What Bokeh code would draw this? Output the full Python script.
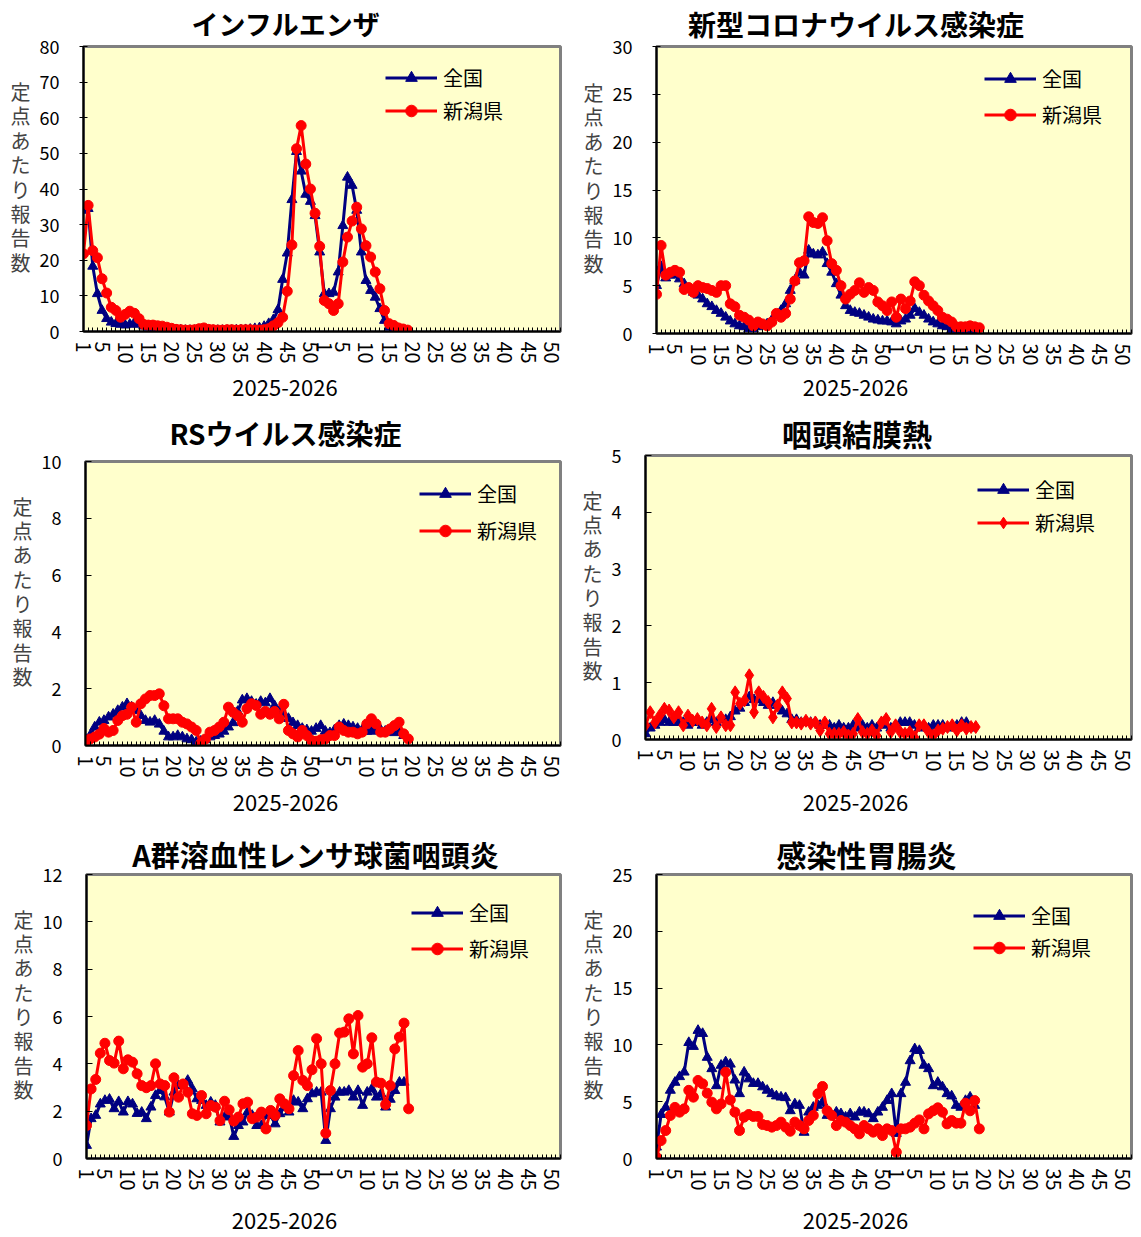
from bokeh.plotting import figure
from bokeh.models import Range1d, FixedTicker, Legend, LegendItem, Label
from bokeh.layouts import column, row
from bokeh.embed import file_html
from bokeh.resources import INLINE

FONT = "Noto Sans CJK JP"

# ---------------- data ----------------
weeks_2025 = list(range(1, 53))
weeks_2026 = list(range(1, 53))
labeled_weeks = [1, 5, 10, 15, 20, 25, 30, 35, 40, 45, 50]
x_title = "2025-2026"
y_title = "定点あたり報告数"
series_names = ["全国", "新潟県"]

titles = ["インフルエンザ", "新型コロナウイルス感染症", "RSウイルス感染症",
          "咽頭結膜熱", "A群溶血性レンサ球菌咽頭炎", "感染性胃腸炎"]
y_max = [80, 30, 10, 5, 12, 25]
y_step = [10, 5, 2, 1, 2, 5]

flu_national = [34.0, 34.5, 18.3, 10.6, 5.9, 3.6, 2.6, 2.2, 2.0, 1.8,
                2.0, 2.5, 2.0, 1.5, 1.2, 1.0, 0.9, 0.8, 0.6, 0.5,
                0.4, 0.4, 0.3, 0.3, 0.3, 0.3, 0.3, 0.3, 0.3, 0.3,
                0.3, 0.3, 0.3, 0.4, 0.4, 0.5, 0.6, 0.8, 1.0, 1.4,
                2.2, 3.3, 6.1, 14.6, 22.0, 37.0, 50.5, 45.0, 38.5, 36.5,
                32.5, 22.3,
                10.6, 10.6, 11.0, 16.7, 29.7, 43.3, 41.0, 34.0, 22.3, 14.3,
                11.5, 9.6, 6.4, 3.1, 1.2, 0.8, 0.5, 0.3]
flu_niigata = [21.8, 35.4, 22.7, 20.7, 14.8, 10.8, 6.8, 5.9, 4.0, 4.8,
               5.7, 5.1, 3.6, 2.0, 1.8, 1.8, 1.6, 1.5, 1.2, 0.9,
               0.6, 0.5, 0.4, 0.4, 0.5, 0.8, 1.0, 0.6, 0.5, 0.4,
               0.4, 0.5, 0.5, 0.4, 0.5, 0.5, 0.5, 0.4, 0.4, 0.5,
               0.8, 1.6, 2.5, 4.0, 11.3, 24.3, 51.3, 57.8, 47.0, 40.0,
               33.2, 23.9,
               8.7, 7.8, 5.9, 7.8, 19.5, 26.5, 31.0, 34.9, 28.8, 24.1,
               20.9, 16.7, 12.0, 5.9, 2.2, 1.7, 1.0, 0.7, 0.4]

covid_national = [5.0, 7.0, 5.8, 6.1, 6.1, 5.7, 5.2, 4.7, 4.3, 4.0,
                  3.6, 3.1, 2.8, 2.4, 2.1, 1.7, 1.3, 1.0, 0.8, 0.7,
                  0.5, 0.5, 0.7, 0.8, 1.0, 1.4, 1.9, 2.4, 3.1, 4.5,
                  5.5, 6.4, 6.1, 8.7, 8.3, 8.2, 8.5, 7.3, 6.4, 5.2,
                  4.0, 2.9, 2.4, 2.2, 2.1, 1.9, 1.7, 1.5, 1.4, 1.3,
                  1.3, 1.2,
                  1.0, 1.3, 1.5, 1.9, 2.6, 2.2, 1.9, 1.5, 1.2, 1.0,
                  0.8, 0.7, 0.4, 0.3, 0.3, 0.3, 0.25, 0.2]
covid_niigata = [4.1, 9.2, 6.1, 6.4, 6.6, 6.4, 4.6, 4.8, 4.3, 5.0,
                 4.8, 4.7, 4.5, 4.3, 5.0, 5.0, 3.1, 2.8, 1.9, 1.7,
                 1.4, 0.8, 1.2, 1.0, 0.8, 1.2, 2.1, 1.7, 2.1, 3.6,
                 5.5, 7.4, 7.6, 12.2, 11.6, 11.5, 12.1, 9.7, 7.3, 6.6,
                 5.0, 3.6, 4.1, 4.5, 5.3, 4.3, 4.8, 4.5, 3.3, 2.9,
                 2.4, 3.3,
                 1.7, 3.6, 2.6, 3.4, 5.4, 5.0, 4.0, 3.4, 2.9, 2.4,
                 1.7, 1.5, 1.2, 0.7, 0.7, 0.7, 0.8, 0.7, 0.6]

rsv_national = [0.23, 0.35, 0.65, 0.82, 0.88, 1.0, 1.1, 1.23, 1.35, 1.47,
                1.35, 1.23, 1.05, 0.88, 0.82, 0.88, 0.75, 0.5, 0.3, 0.3,
                0.35, 0.3, 0.23, 0.2, 0.12, 0.15, 0.2, 0.3, 0.35, 0.4,
                0.5, 0.65, 0.8, 1.2, 1.6, 1.65, 1.55, 1.45, 1.55, 1.5,
                1.65, 1.4, 1.2, 1.1, 0.95, 0.8, 0.7, 0.6, 0.55, 0.5,
                0.6, 0.7,
                0.5, 0.45, 0.55, 0.7, 0.75, 0.7, 0.65, 0.6, 0.55, 0.5,
                0.5, 0.55, 0.55, 0.5, 0.5, 0.45, 0.55, 0.35]
rsv_niigata = [0.15, 0.23, 0.3, 0.4, 0.6, 0.47, 0.53, 0.88, 1.05, 1.1,
               1.35, 0.82, 1.47, 1.64, 1.76, 1.76, 1.82, 1.4, 0.94, 0.94,
               0.94, 0.82, 0.76, 0.65, 0.53, 0.08, 0.23, 0.47, 0.53, 0.65,
               0.82, 1.35, 1.17, 1.05, 0.82, 1.3, 1.47, 1.41, 1.1, 1.2,
               1.1, 1.2, 0.94, 1.45, 0.53, 0.41, 0.3, 0.53, 0.35, 0.18,
               0.15, 0.2,
               0.23, 0.35, 0.35, 0.65, 0.53, 0.47, 0.47, 0.41, 0.47, 0.76,
               0.94, 0.76, 0.47, 0.47, 0.58, 0.7, 0.82, 0.41, 0.23]

pcf_national = [0.1, 0.2, 0.25, 0.3, 0.35, 0.3, 0.3, 0.3, 0.3, 0.25,
                0.3, 0.3, 0.25, 0.3, 0.35, 0.3, 0.35, 0.35, 0.4, 0.5,
                0.55, 0.65, 0.75, 0.7, 0.7, 0.65, 0.6, 0.65, 0.6, 0.5,
                0.45, 0.35, 0.35, 0.3, 0.3, 0.3, 0.3, 0.25, 0.25, 0.25,
                0.2, 0.25, 0.2, 0.2, 0.25, 0.2, 0.25, 0.2, 0.25, 0.2,
                0.3, 0.25,
                0.2, 0.25, 0.3, 0.3, 0.3, 0.25, 0.2, 0.25, 0.2, 0.25,
                0.25, 0.25, 0.2, 0.25, 0.25, 0.3, 0.3, 0.2]
pcf_niigata = [0.25, 0.48, 0.3, 0.42, 0.54, 0.51, 0.39, 0.48, 0.25, 0.42,
               0.33, 0.36, 0.3, 0.25, 0.54, 0.22, 0.39, 0.25, 0.25, 0.83,
               0.63, 0.69, 1.13, 0.48, 0.83, 0.75, 0.66, 0.39, 0.6, 0.83,
               0.72, 0.3, 0.3, 0.28, 0.33, 0.28, 0.3, 0.16, 0.3, 0.1,
               0.1, 0.1, 0.13, 0.07, 0.1, 0.36, 0.13, 0.1, 0.16, 0.07,
               0.3, 0.36,
               0.13, 0.25, 0.13, 0.1, 0.13, 0.04, 0.25, 0.25, 0.13, 0.07,
               0.16, 0.19, 0.22, 0.25, 0.16, 0.25, 0.19, 0.22, 0.22]

gas_national = [0.55, 1.68, 1.82, 2.3, 2.45, 2.5, 2.1, 2.4, 1.96, 2.4,
                2.3, 1.9, 1.95, 1.68, 2.17, 2.66, 2.87, 2.6, 1.96, 2.8,
                3.08, 3.08, 3.3, 2.94, 2.52, 2.45, 2.24, 2.38, 2.24, 1.54,
                1.75, 1.82, 0.93, 1.39, 1.54, 1.96, 1.82, 1.39, 1.39, 1.82,
                1.82, 1.46, 1.89, 2.17, 1.96, 2.45, 2.38, 2.1, 2.52, 2.73,
                2.8, 2.8,
                0.76, 2.1, 2.59, 2.8, 2.8, 2.87, 2.59, 2.87, 2.24, 2.8,
                2.94, 2.59, 2.73, 2.17, 2.5, 2.87, 3.22, 3.22]
gas_niigata = [1.39, 2.94, 3.34, 4.45, 4.87, 4.14, 4.03, 4.96, 3.79, 4.17,
               4.07, 3.58, 3.08, 2.99, 3.08, 4.0, 3.15, 3.08, 1.96, 3.41,
               2.59, 3.15, 2.8, 1.89, 1.82, 2.66, 1.89, 2.24, 2.17, 1.6,
               2.42, 2.06, 1.58, 1.75, 2.31, 2.38, 1.68, 1.75, 1.96, 1.25,
               2.03, 1.82, 2.52, 2.31, 2.1, 3.5, 4.56, 3.3, 3.08, 3.75,
               5.06, 4.0,
               1.07, 2.87, 4.0, 5.3, 5.34, 5.9, 4.42, 6.04, 3.86, 4.0,
               5.1, 3.23, 3.18, 2.28, 3.08, 4.63, 5.13, 5.72, 2.1]

ge_national = [1.0, 3.87, 4.5, 6.0, 6.7, 7.2, 7.6, 10.2, 9.86, 11.27,
               11.0, 8.9, 7.9, 6.4, 8.2, 8.5, 8.3, 6.9, 5.7, 7.6,
               7.0, 6.6, 6.6, 6.3, 6.0, 5.7, 5.5, 5.4, 5.35, 4.2,
               4.8, 4.67, 2.3, 4.08, 4.5, 4.67, 4.96, 3.79, 3.79, 4.08,
               3.93, 3.64, 3.93, 3.64, 4.08, 4.08, 3.93, 3.5, 4.08, 4.5,
               5.1, 5.7,
               2.2, 5.7, 6.7, 8.6, 9.65, 9.5, 8.2, 7.9, 6.4, 6.7,
               6.3, 5.7, 5.5, 4.67, 4.5, 5.1, 5.4, 4.67]
ge_niigata = [0.12, 1.58, 2.46, 3.79, 4.5, 4.08, 4.37, 6.0, 5.4, 6.87,
              6.57, 5.75, 4.96, 4.37, 4.8, 7.6, 5.16, 4.08, 2.46, 3.64,
              3.87, 3.7, 3.7, 2.99, 2.9, 2.76, 2.9, 3.2, 2.76, 2.4,
              3.2, 2.9, 2.61, 3.34, 3.79, 5.7, 6.34, 4.2, 3.79, 2.9,
              3.34, 3.2, 2.9, 2.61, 2.17, 2.9, 2.61, 2.32, 2.61, 2.02,
              2.61, 2.46,
              0.56, 2.61, 2.61, 2.76, 3.11, 3.4, 2.61, 3.93, 4.2, 4.46,
              4.08, 3.05, 3.34, 3.11, 3.11, 4.87, 4.2, 5.1, 2.61]

national = [flu_national, covid_national, rsv_national, pcf_national, gas_national, ge_national]
niigata = [flu_niigata, covid_niigata, rsv_niigata, pcf_niigata, gas_niigata, ge_niigata]

# ---------------- layout / styles ----------------
NAVY = "#000080"
RED = "#FF0000"
COL_W = 570

week_labels = [str(w) if w in labeled_weeks else "" for w in weeks_2025] + \
              [str(w) if w in labeled_weeks else "" for w in weeks_2026]
n_slots = len(week_labels)

# strips above/below each row of charts: heights and text centre (from strip bottom)
title_strip_h = [43, 50, 55]
title_strip_y = [20, 21.5, 22]
xlab_strip_h = [35, 37, 36]
xlab_strip_y = [17, 18, 16]

# chart figure geometry: h, left, right, top, bottom borders, pull-up over title strip
geom = [
    dict(h=338, l=83, r=10, t=17, b=36, up=14),
    dict(h=340, l=86, r=9, t=17, b=36, up=14),
    dict(h=343, l=85, r=10, t=21, b=38, up=14),
    dict(h=343, l=75, r=9, t=21, b=38, up=20),
    dict(h=341, l=86, r=10, t=15, b=42, up=16),
    dict(h=341, l=86, r=9, t=15, b=42, up=16),
]
title_size = [27, 28, 28, 30, 29, 30]
title_cx = [285.5, 285.5, 285, 286.5, 315, 296]
xlab_cx = [284.5, 285, 285, 285, 284, 285]
tick_out = [4, 4, 0, 0, 0, 0]
tick_in = [4, 4, 6, 6, 6, 6]
legend_pos = [(302, 206), (328, 204), (334, 200), (332, 202), (325, 195), (317, 196)]
legend_spacing = [4, 7, 8, 4, 7, 3]
nii_marker = ["circle", "circle", "circle", "diamond", "circle", "circle"]
nii_size = [10, 10, 10, 13, 10, 10]


def text_strip(height, text, cx, cy, size, style):
    s = figure(width=COL_W, height=height, x_range=Range1d(0, 1), y_range=Range1d(0, 1),
               output_backend="svg", toolbar_location=None,
               x_axis_location=None, y_axis_location=None,
               min_border_left=0, min_border_right=0, min_border_top=0, min_border_bottom=0)
    s.title.text = ""
    s.title.visible = False
    s.outline_line_color = None
    s.background_fill_color = "white"
    s.border_fill_color = "white"
    s.xgrid.visible = False
    s.ygrid.visible = False
    s.add_layout(Label(x=cx, y=cy, x_units="screen", y_units="screen", text=text,
                       text_font=FONT, text_font_size=f"{size}px", text_font_style=style,
                       text_color="black", text_align="center", text_baseline="middle"))
    return s


def make_panel(k):
    g = geom[k]
    p = figure(width=COL_W, height=g["h"],
               x_range=Range1d(0, n_slots - 1), y_range=Range1d(0, y_max[k]),
               output_backend="svg", toolbar_location=None,
               min_border_left=g["l"], min_border_right=g["r"],
               min_border_top=g["t"], min_border_bottom=g["b"])
    p.margin = (-g["up"], 0, 0, 0)
    p.title.text = ""
    p.title.visible = False
    p.background_fill_color = "#FFFFCC"
    p.border_fill_color = "white"
    p.border_fill_alpha = 0
    p.outline_line_color = "#808080"
    p.outline_line_width = 3
    p.xgrid.visible = False
    p.ygrid.visible = False

    # x axis
    xa = p.xaxis[0]
    xa.ticker = FixedTicker(ticks=list(range(n_slots)))
    xa.major_label_overrides = {i: lab for i, lab in enumerate(week_labels)}
    xa.major_label_orientation = "vertical"
    xa.major_label_text_font = FONT
    xa.major_label_text_font_size = "20px"
    xa.major_label_text_color = "black"
    xa.major_label_standoff = 10
    xa.major_tick_in = 4
    xa.major_tick_out = 0
    xa.minor_tick_line_color = None
    xa.axis_line_color = "black"
    xa.axis_line_width = 2
    xa.major_tick_line_color = "black"

    # y axis
    ya = p.yaxis[0]
    ya.ticker = FixedTicker(ticks=list(range(0, y_max[k] + 1, y_step[k])))
    ya.major_label_text_font = FONT
    ya.major_label_text_font_size = "18px"
    ya.major_label_text_color = "black"
    ya.major_tick_in = tick_in[k]
    ya.major_tick_out = tick_out[k]
    ya.major_label_standoff = 24 - tick_out[k]
    ya.minor_tick_line_color = None
    ya.axis_line_color = "black"
    ya.axis_line_width = 2
    ya.major_tick_line_color = "black"
    ya.axis_label = "\n".join(list(y_title)) + "\n\u3000"
    ya.axis_label_orientation = "horizontal"
    ya.axis_label_text_font = FONT
    ya.axis_label_text_font_size = "20px"
    ya.axis_label_text_font_style = "normal"
    ya.axis_label_text_line_height = 0.84
    ya.axis_label_standoff = 6

    nat = national[k]
    nii = niigata[k]
    r1l = p.line(list(range(len(nat))), nat, line_color=NAVY, line_width=3)
    r1s = p.scatter(list(range(len(nat))), nat, marker="triangle", size=10,
                    fill_color=NAVY, line_color=NAVY)
    r2l = p.line(list(range(len(nii))), nii, line_color=RED, line_width=3)
    r2s = p.scatter(list(range(len(nii))), nii, marker=nii_marker[k], size=nii_size[k],
                    fill_color=RED, line_color=RED)

    legend = Legend(items=[LegendItem(label=series_names[0], renderers=[r1l, r1s]),
                           LegendItem(label=series_names[1], renderers=[r2l, r2s])],
                    location=legend_pos[k], orientation="vertical")
    legend.padding = 0
    legend.margin = 0
    legend.border_line_color = None
    legend.background_fill_alpha = 0
    legend.glyph_width = 52
    legend.glyph_height = 29
    legend.label_height = 29
    legend.label_standoff = 6
    legend.spacing = legend_spacing[k]
    legend.label_text_font = FONT
    legend.label_text_font_size = "20px"
    legend.label_text_color = "black"
    p.add_layout(legend)
    return p


rows = []
for r in range(3):
    ks = [2 * r, 2 * r + 1]
    rows.append(row(*[text_strip(title_strip_h[r], titles[k], title_cx[k], title_strip_y[r],
                                 title_size[k], "bold") for k in ks]))
    rows.append(row(*[make_panel(k) for k in ks]))
    rows.append(row(*[text_strip(xlab_strip_h[r], x_title, xlab_cx[k], xlab_strip_y[r],
                                 22, "normal") for k in ks]))

layout = column(*rows)

open("out.html", "w").write(file_html(layout, INLINE))
